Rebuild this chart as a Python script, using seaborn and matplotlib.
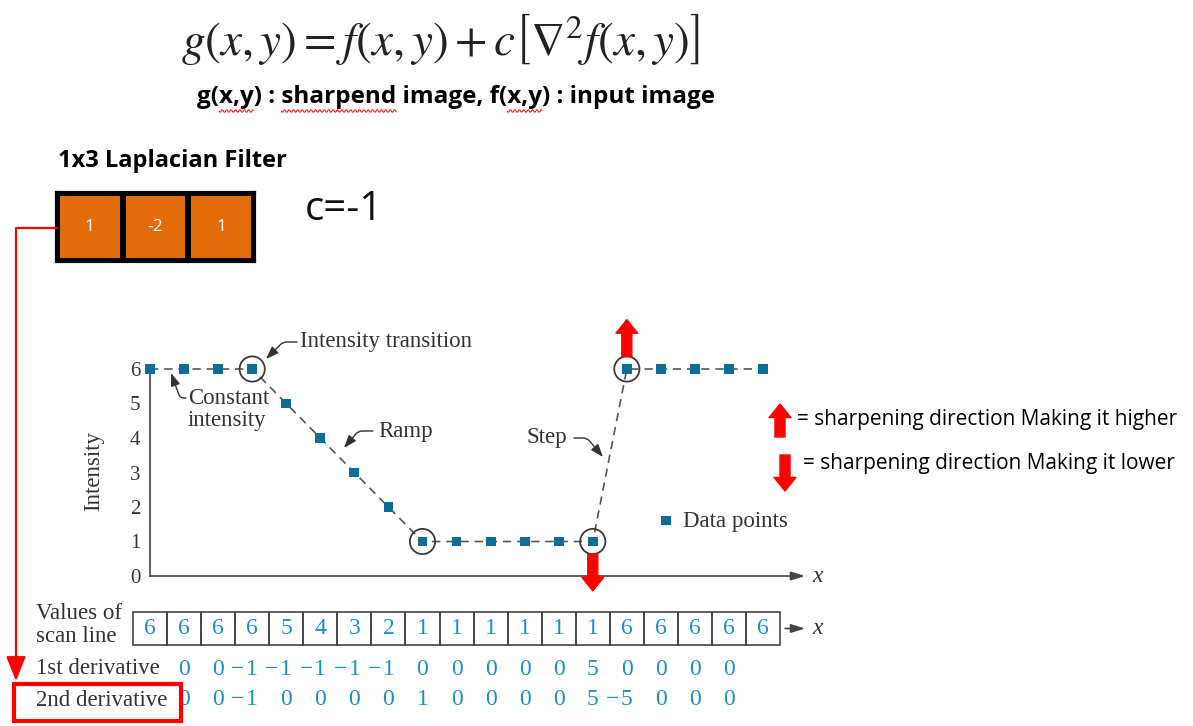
import numpy as np
import matplotlib
matplotlib.use('Agg')
import matplotlib.pyplot as plt
import seaborn as sns
from matplotlib.colors import ListedColormap
from matplotlib.patches import Rectangle

# Data
scan_line = [6, 6, 6, 6, 5, 4, 3, 2, 1, 1, 1, 1, 1, 1, 6, 6, 6, 6, 6]
first_derivative = [0, 0, -1, -1, -1, -1, -1, 0, 0, 0, 0, 0, 5, 0, 0, 0, 0]
second_derivative = [0, 0, -1, 0, 0, 0, 0, 1, 0, 0, 0, 0, 5, -5, 0, 0, 0]
laplacian_kernel = [1, -2, 1]
c_value = -1
intensity_ticks = [0, 1, 2, 3, 4, 5, 6]

# Style
sns.set_theme(style='white')
SERIF = ['Liberation Serif', 'DejaVu Serif']
SANS = ['Open Sans', 'DejaVu Sans']
plt.rcParams['font.family'] = SANS
plt.rcParams['mathtext.fontset'] = 'stix'

TXT = '#333333'
AXC = '#444444'
MARK = '#0b6d98'
NUM = '#1f8dc6'

W, H = 1193, 726
fig = plt.figure(figsize=(W / 100, H / 100), dpi=100)


def px_axes(x0, y0, x1, y1, **kw):
    # pixel box measured from the top-left corner
    return fig.add_axes([x0 / W, 1 - y1 / H, (x1 - x0) / W, (y1 - y0) / H], **kw)


x = np.arange(len(scan_line))
xd = np.arange(1, len(scan_line) - 1)
UX, UY = 34.06, 34.5          # pixels per data unit
ax = px_axes(150, 576 - 6.5 * UY, 805, 576)
xmax = 655 / UX

# 1. Intensity profile
sns.lineplot(x=x, y=scan_line, ax=ax, color='#555555', lw=1.2,
             linestyle=(0, (5, 3.5)), errorbar=None, zorder=2)
sns.scatterplot(x=x, y=scan_line, ax=ax, marker='s', s=50, color=MARK,
                edgecolor='none', zorder=3, label='Data points')
for coll in ax.collections:
    coll.set_clip_on(False)
for ln in ax.lines:
    ln.set_clip_on(False)

# circles where the 2nd derivative is non-zero
sd = np.array(second_derivative)
turn_x = xd[sd != 0]
turn_y = np.array(scan_line)[turn_x]
ax.scatter(turn_x, turn_y, s=330, facecolors='none', edgecolors='#3a3a3a',
           linewidths=1.3, zorder=4, clip_on=False)

# sharpening arrows (g = f + c * lap)
boost = c_value * sd
for xi, b in zip(xd, boost):
    if abs(b) > 1:
        yi = scan_line[xi]
        d = np.sign(b)
        ax.annotate('', xy=(xi, yi + d * 1.43), xytext=(xi, yi + d * 0.36),
                    arrowprops=dict(arrowstyle='simple,head_length=0.65,head_width=1.05,tail_width=0.48',
                                    color='red', mutation_scale=15, shrinkA=0, shrinkB=0),
                    annotation_clip=False, zorder=6)

ax.set_xlim(0, xmax)
ax.set_ylim(0, 6.5)
ax.set_yticks(intensity_ticks)
ax.set_xticks(x[1:])
ax.set_xticklabels([])
ax.tick_params(axis='both', direction='in', length=7.2, width=1.1, color=AXC)
ax.tick_params(axis='y', labelsize=15, pad=7, labelcolor=TXT)
plt.setp(ax.get_yticklabels(), family=SERIF)
ax.spines[['top', 'right', 'bottom']].set_visible(False)
ax.spines['left'].set_bounds(0, 6)
ax.spines['left'].set_color(AXC)
ax.spines['left'].set_linewidth(1.2)
ax.annotate('', xy=(xmax, 0), xytext=(0, 0),
            arrowprops=dict(arrowstyle='-|>,head_length=0.7,head_width=0.22', color=AXC,
                            lw=1.2, shrinkA=0, shrinkB=0, mutation_scale=12),
            annotation_clip=False)
ax.text(xmax + 0.2, 0, 'x', family=SERIF, style='italic', fontsize=17, color=TXT,
        ha='left', va='center', clip_on=False)
ax.set_ylabel('Intensity', family=SERIF, fontsize=16.5, color=TXT)
ax.yaxis.set_label_coords(-46 / 655, (576 - 471) / (6.5 * UY))

leg = ax.legend(loc='center left', bbox_to_anchor=((660 - 150) / 655, (576 - 521) / (6.5 * UY)),
                frameon=False, handlelength=0.5, handletextpad=0.5, borderpad=0,
                borderaxespad=0, prop={'family': SERIF, 'size': 16.5})
for t in leg.get_texts():
    t.set_color(TXT)

# 2. Scan line table and derivatives (same x scale)
cell_top, cell_bot = -1.043, -2.0
bars = ax.bar(x, height=cell_top - cell_bot, bottom=cell_bot, width=1, fill=False,
              edgecolor=AXC, lw=1.2)
for p in bars.patches:
    p.set_clip_on(False)
row_mid = (cell_top + cell_bot) / 2
for xi, v in zip(x, scan_line):
    ax.text(xi, row_mid, str(v), family=SERIF, fontsize=17, color=NUM,
            ha='center', va='center', clip_on=False)
ax.annotate('', xy=(xmax, row_mid), xytext=(len(scan_line) - 0.35, row_mid),
            arrowprops=dict(arrowstyle='-|>,head_length=0.7,head_width=0.22', color=AXC,
                            lw=1.2, shrinkA=0, shrinkB=0, mutation_scale=12),
            annotation_clip=False)
ax.text(xmax + 0.2, row_mid, 'x', family=SERIF, style='italic', fontsize=17, color=TXT,
        ha='left', va='center', clip_on=False)

for row_y, vals in [(-2.70, first_derivative), (-3.59, second_derivative)]:
    for xi, v in zip(xd, vals):
        ax.text(xi, row_y, str(abs(v)), family=SERIF, fontsize=17, color=NUM,
                ha='center', va='center', clip_on=False)
        if v < 0:
            ax.text(xi - 0.22, row_y, '\u2212', family=SERIF, fontsize=17, color=NUM,
                    ha='right', va='center', clip_on=False)

# 3. Filter kernel as a one-row heatmap
fax = px_axes(57, 193, 254, 261)
sns.heatmap([laplacian_kernel], ax=fax, cmap=ListedColormap(['#E36C0A']), cbar=False,
            annot=True, fmt='d', annot_kws=dict(color='white', fontsize=12.5),
            linewidths=3, linecolor='black', xticklabels=False, yticklabels=False)
for s in fax.spines.values():
    s.set_visible(True)
    s.set_color('black')
    s.set_linewidth(3)

# 4. Overlay (pixel coordinates) for texts and callouts
ov = fig.add_axes([0, 0, 1, 1], zorder=5)
ov.set_xlim(0, W)
ov.set_ylim(H, 0)
ov.axis('off')

ov.text(440, 39, r'$g(x, y) = f(x, y) + c\left[\nabla^2 f(x, y)\right]$',
        ha='center', va='center', fontsize=34, color='#222222')
sub_kw = dict(fontsize=17.5, fontweight='bold', color='black', ha='left', va='center')
subtitle = 'g(x,y) : sharpend image, f(x,y) : input image'
ov.text(197, 97, subtitle, **sub_kw)

renderer = fig.canvas.get_renderer()


def prefix_w(s):
    t = ov.text(0, 0, s, **sub_kw)
    w = t.get_window_extent(renderer).width
    t.remove()
    return w


def wavy(x0, x1, y):
    xs = np.linspace(x0, x1, int((x1 - x0) * 1.5) + 2)
    ov.plot(xs, y + 1.3 * np.sin((xs - x0) * np.pi / 2.2), color='red', lw=0.7)


for word, prev in [('x,y', 'g('), ('sharpend', 'g(x,y) : '), ('x,y', 'g(x,y) : sharpend image, f(')]:
    a = 197 + prefix_w(prev)
    b = 197 + prefix_w(prev + word)
    wavy(a, b, 111)

ov.text(58, 161, '1x3 Laplacian Filter', fontsize=17, fontweight='bold', color='black',
        ha='left', va='center')
ov.text(305, 210, f'c={c_value}', fontsize=29, color='#111111',
        ha='left', va='center')

# chart callouts
call_kw = dict(family=SERIF, fontsize=16.5, color=TXT, va='center')
ov.text(300, 341, 'Intensity transition', ha='left', **call_kw)
ov.text(188, 409.5, 'Constant\nintensity', ha='left', linespacing=1.1, **call_kw)
ov.text(378, 432, 'Ramp', ha='left', **call_kw)
ov.text(567, 438, 'Step', ha='right', **call_kw)
for start, tip, angB in [((297, 342), (266, 359), 45), ((186, 398), (171, 373), -70),
                         ((373, 431), (344, 448), 50), ((574, 438), (603, 457), -50)]:
    ov.annotate('', xy=tip, xytext=start,
                arrowprops=dict(arrowstyle='-|>,head_length=0.55,head_width=0.2', color=TXT,
                                lw=1.0, mutation_scale=14, shrinkA=0, shrinkB=0,
                                connectionstyle=f'angle,angleA=0,angleB={angB},rad=4'))

# legend arrows
big = dict(arrowstyle='simple,head_length=0.65,head_width=1.05,tail_width=0.48',
           color='red', mutation_scale=15, shrinkA=0, shrinkB=0)
ov.annotate('', xy=(780, 404), xytext=(780, 437), arrowprops=big)
ov.annotate('', xy=(785, 491), xytext=(785, 455), arrowprops=big)
ov.text(797, 419, '= sharpening direction Making it higher', fontsize=15, color='black',
        ha='left', va='center')
ov.text(803, 464, '= sharpening direction Making it lower', fontsize=15, color='black',
        ha='left', va='center')

# row labels and red link
lab_kw = dict(family=SERIF, fontsize=16.5, color=TXT, ha='left', va='center')
ov.text(36, 625, 'Values of\nscan line', linespacing=1.12, **lab_kw)
ov.text(36, 669, '1st derivative', **lab_kw)
ov.text(36, 700, '2nd derivative', **lab_kw)
ov.annotate('', xy=(16, 681), xytext=(57, 228),
            arrowprops=dict(arrowstyle='-|>,head_length=0.75,head_width=0.3', color='red',
                            lw=1.6, mutation_scale=20, shrinkA=0, shrinkB=0,
                            connectionstyle='angle,angleA=180,angleB=90,rad=0'))
ov.add_patch(Rectangle((14, 684), 167, 37, fill=False, edgecolor='red', lw=3))

fig.savefig('out.png', dpi=100)
